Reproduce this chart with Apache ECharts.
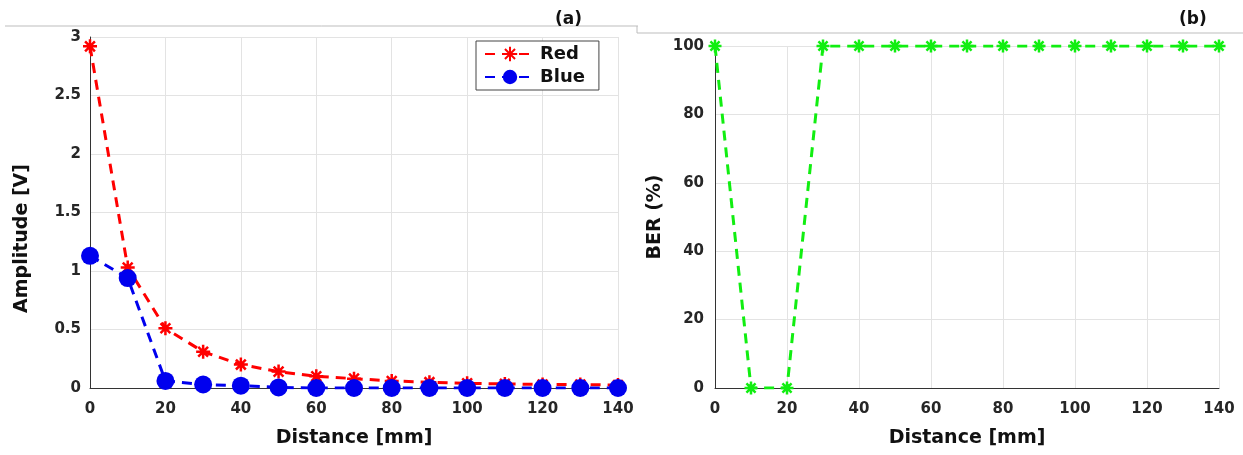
<!DOCTYPE html>
<html>
<head>
<meta charset="utf-8">
<script src="https://cdn.jsdelivr.net/npm/echarts@6/dist/echarts.min.js"></script>
<style>
  html, body { margin: 0; padding: 0; background: #fff; }
  #chart { width: 1243px; height: 455px; }
</style>
</head>
<body>
<div id="chart"></div>
<script>
// distance steps shared by both panels (mm)
const distance = [0, 10, 20, 30, 40, 50, 60, 70, 80, 90, 100, 110, 120, 130, 140]
// (a) amplitude in volts
const redAmplitude = [2.92, 1.03, 0.51, 0.31, 0.2, 0.14, 0.1, 0.08, 0.06, 0.05, 0.04, 0.035, 0.03, 0.03, 0.025]
const blueAmplitude = [1.13, 0.94, 0.06, 0.03, 0.02, 0.005, 0, 0, 0, 0, 0, 0, 0, 0, 0]
// (b) bit error rate in percent
const ber = [100, 0, 0, 100, 100, 100, 100, 100, 100, 100, 100, 100, 100, 100, 100]

const pairs = (ys) => distance.map((d, i) => [d, ys[i]])

const STAR = 'path://M10 0L10 20M0 10L20 10M3 3L17 17M3 17L17 3'
const FONT = 'DejaVu Sans'
const labelStyle = { color: '#262626', fontFamily: FONT, fontWeight: 'bold', fontSize: 15 }
const nameStyle = { color: '#111', fontFamily: FONT, fontWeight: 'bold', fontSize: 19 }
const gridLine = { show: true, lineStyle: { color: '#e3e3e3', width: 1 } }
const axisLine = { show: true, onZero: false, lineStyle: { color: '#333', width: 1 } }

const chart = echarts.init(document.getElementById('chart'))

chart.setOption({
  animation: false,
  backgroundColor: '#fff',
  title: [
    { text: '(a)', left: 550, top: 6, textStyle: { fontFamily: FONT, fontWeight: 'bold', fontSize: 17, color: '#111' } },
    { text: '(b)', left: 1174, top: 6, textStyle: { fontFamily: FONT, fontWeight: 'bold', fontSize: 17, color: '#111' } },
  ],
  graphic: [
    { type: 'line', shape: { x1: 5, y1: 26, x2: 638, y2: 26 }, style: { stroke: '#bdbdbd', lineWidth: 1 } },
    { type: 'line', shape: { x1: 637, y1: 26, x2: 637, y2: 33 }, style: { stroke: '#bdbdbd', lineWidth: 1 } },
    { type: 'line', shape: { x1: 637, y1: 33, x2: 1243, y2: 33 }, style: { stroke: '#bdbdbd', lineWidth: 1 } },
  ],
  legend: {
    data: ['Red', 'Blue'],
    orient: 'vertical',
    left: 476,
    top: 41,
    itemWidth: 50,
    itemHeight: 18,
    itemGap: 5,
    padding: [4, 14, 4, 8],
    borderColor: '#444',
    borderWidth: 1,
    backgroundColor: '#fff',
    textStyle: { fontFamily: FONT, fontWeight: 'bold', fontSize: 18, color: '#111' },
  },
  grid: [
    { left: 90, top: 37, width: 528, height: 351 },
    { left: 715, top: 46, width: 504, height: 342 },
  ],
  xAxis: [0, 1].map((g) => ({
    gridIndex: g,
    type: 'value',
    min: 0,
    max: 140,
    interval: 20,
    name: 'Distance [mm]',
    nameLocation: 'middle',
    nameGap: 41,
    nameTextStyle: nameStyle,
    axisLine,
    axisTick: { show: false },
    axisLabel: { ...labelStyle, margin: 14 },
    splitLine: gridLine,
  })),
  yAxis: [
    {
      gridIndex: 0,
      type: 'value',
      min: 0,
      max: 3,
      interval: 0.5,
      name: 'Amplitude [V]',
      nameLocation: 'middle',
      nameGap: 58,
      nameTextStyle: { ...nameStyle, padding: [0, 52, 0, 0] },
      axisLine,
      axisTick: { show: false },
      axisLabel: { ...labelStyle, margin: 9 },
      splitLine: gridLine,
    },
    {
      gridIndex: 1,
      type: 'value',
      min: 0,
      max: 100,
      interval: 20,
      name: 'BER (%)',
      nameLocation: 'middle',
      nameGap: 50,
      nameTextStyle: nameStyle,
      axisLine,
      axisTick: { show: false },
      axisLabel: { ...labelStyle, margin: 11 },
      splitLine: gridLine,
    },
  ],
  series: [
    {
      name: 'Red',
      type: 'line',
      xAxisIndex: 0,
      yAxisIndex: 0,
      data: pairs(redAmplitude),
      symbol: STAR,
      symbolSize: 14,
      lineStyle: { color: '#ff0000', width: 3, type: [10, 7] },
      itemStyle: { color: '#ff0000', borderColor: '#ff0000', borderWidth: 2.5 },
    },
    {
      name: 'Blue',
      type: 'line',
      xAxisIndex: 0,
      yAxisIndex: 0,
      data: pairs(blueAmplitude),
      symbol: 'circle',
      symbolSize: 18,
      lineStyle: { color: '#0000ee', width: 3, type: [10, 7] },
      itemStyle: { color: '#0000ee', borderWidth: 0 },
    },
    {
      name: 'BER',
      type: 'line',
      xAxisIndex: 1,
      yAxisIndex: 1,
      data: pairs(ber),
      symbol: STAR,
      symbolSize: 13,
      lineStyle: { color: '#11ee11', width: 3, type: [10, 7] },
      itemStyle: { color: '#11ee11', borderColor: '#11ee11', borderWidth: 2.5 },
    },
  ],
})
</script>
</body>
</html>
